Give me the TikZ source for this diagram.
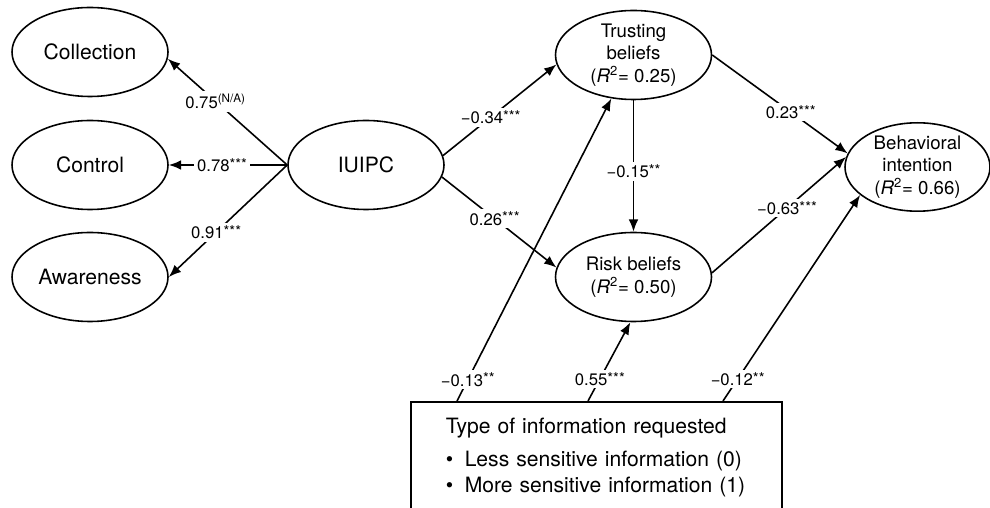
\documentclass[tikz,border=0pt]{standalone}
\usepackage{fontspec}
\setmainfont{TeX Gyre Heros}
\usetikzlibrary{shapes.geometric,arrows.meta}

\newcommand{\signif}[1]{\raisebox{1.3pt}{\fontsize{8.5}{8.5}\selectfont#1}}

\begin{document}
\begin{tikzpicture}[
    latent/.style={draw, ellipse, line width=0.9pt, minimum width=3.12cm, minimum height=1.78cm, inner sep=0pt, align=center},
    bigtext/.style={font=\fontsize{12}{14}\selectfont},
    smalltext/.style={font=\fontsize{10.6}{12.8}\selectfont},
    path/.style={line width=0.9pt, -{Latex[length=7pt,width=5.5pt]}},
    coef/.style={fill=white, inner sep=1.5pt, font=\fontsize{9.5}{11}\selectfont}
]

    \useasboundingbox (0,0) rectangle (19.8,10.16);

    \node[latent, bigtext] (coll) at (1.8,9.12) {Collection};
    \node[latent, bigtext] (ctrl) at (1.8,6.86) {Control};
    \node[latent, bigtext] (aware) at (1.8,4.62) {Awareness};
    \node[latent, bigtext] (iuipc) at (7.32,6.86) {IUIPC};

    \node[latent, smalltext] (trust) at (12.67,9.06) {Trusting\\beliefs\\(\textit{R}\textsuperscript{2}= 0.25)};
    \node[latent, smalltext] (risk) at (12.67,4.62) {Risk beliefs\\(\textit{R}\textsuperscript{2}= 0.50)};
    \node[latent, smalltext, minimum width=2.9cm, minimum height=1.7cm] (bi) at (18.35,6.82) {Behavioral\\intention\\(\textit{R}\textsuperscript{2}= 0.66)};

    \node[draw, line width=0.9pt, anchor=north west, text width=6.02cm, inner xsep=0.7cm, inner ysep=9pt, align=left, bigtext] (info) at (8.2,2.14)
        {Type of information requested\\[5pt]
         \textbullet\hspace{0.55em}Less sensitive information (0)\\[1pt]
         \textbullet\hspace{0.55em}More sensitive information (1)};

    \draw[path] (iuipc.west) -- node[coef, pos=0.6] {0.75\textsuperscript{(N/A)}} (coll.-5);
    \draw[path] (iuipc.west) -- node[coef, pos=0.55] {0.78\signif{***}} (ctrl.east);
    \draw[path] (iuipc.west) -- node[coef, pos=0.6] {0.91\signif{***}} (aware.east);

    \draw[path] (iuipc.7) -- node[coef, pos=0.42] {−0.34\signif{***}} (trust.187);
    \draw[path] (iuipc.351) -- node[coef, pos=0.46] {0.26\signif{***}} (risk.173);
    \draw[path] (trust.south) -- node[coef, pos=0.54] {−0.15\signif{**}} (risk.north);
    \draw[path] (trust.east) -- node[coef, pos=0.58] {0.23\signif{***}} (bi.169);
    \draw[path] (risk.3) -- node[coef, pos=0.56] {−0.63\signif{***}} (bi.172);

    \draw[path] ([xshift=0.94cm]info.north west) -- node[coef, pos=0.07] {−0.13\signif{**}} (trust);
    \draw[path] ([xshift=3.56cm]info.north west) -- node[coef, pos=0.28] {0.55\signif{***}} (risk.-94);
    \draw[path] ([xshift=6.26cm]info.north west) -- node[coef, pos=0.107] {−0.12\signif{**}} (bi.206);

\end{tikzpicture}
\end{document}
